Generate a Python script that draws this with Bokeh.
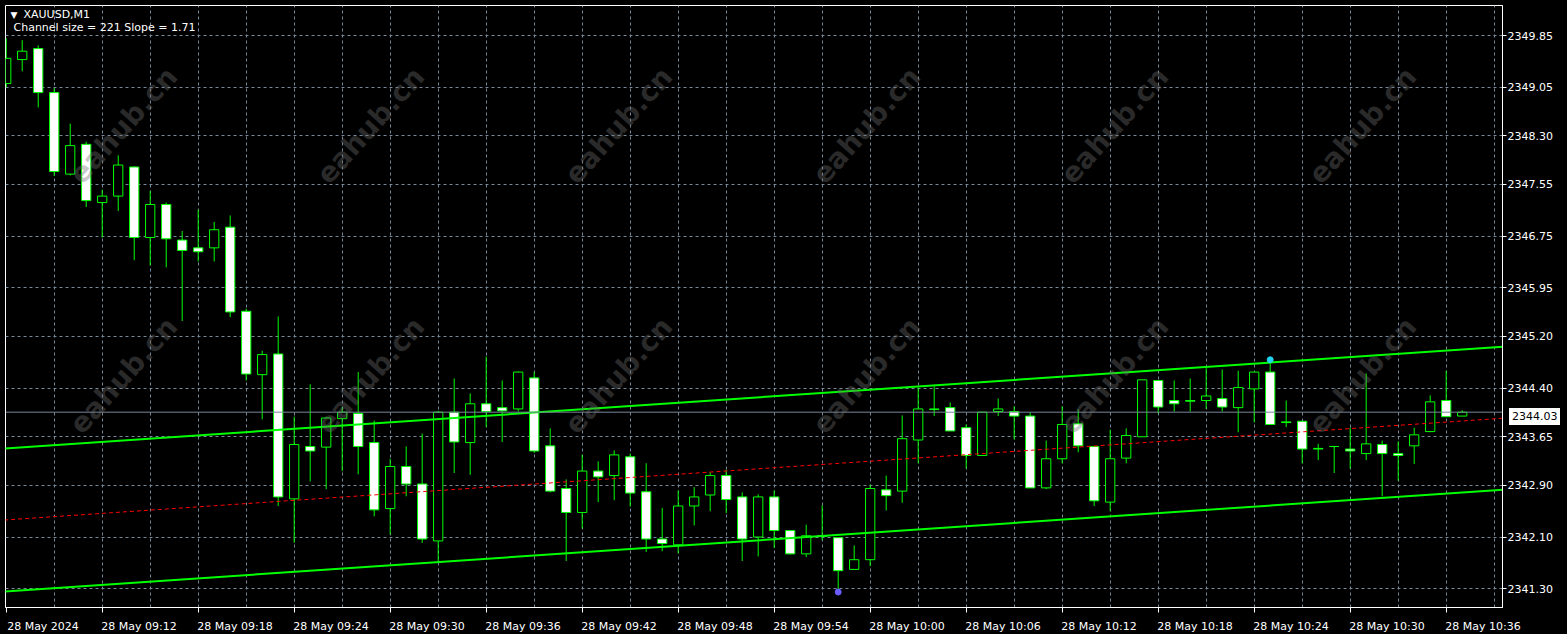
import numpy as np
from bokeh.plotting import figure
from bokeh.layouts import column
from bokeh.models import (FixedTicker, Label, Span, CustomJSTickFormatter, Div,
                          PrintfTickFormatter, Range1d, GlobalInlineStyleSheet)
from bokeh.embed import file_html
from bokeh.resources import INLINE

# ---------------- data (XAUUSD, M1, 28 May 2024, bar 0 = 09:06) ----------------
symbol = "XAUUSD,M1"
channel_text = "Channel size = 221 Slope = 1.71"

opens = [2349.11, 2349.48, 2349.65, 2348.97, 2347.71, 2348.17, 2347.27, 2347.37, 2347.82, 2346.73,
         2347.24, 2346.69, 2346.57, 2346.57, 2346.89, 2345.59, 2344.61, 2344.93, 2342.69, 2343.50,
         2343.49, 2343.93, 2344.01, 2343.56, 2342.54, 2343.19, 2342.92, 2342.04, 2344.03, 2343.56,
         2344.16, 2344.10, 2344.08, 2344.56, 2343.51, 2342.85, 2342.48, 2343.12, 2343.05, 2343.34,
         2342.80, 2342.07, 2341.98, 2342.58, 2342.75, 2343.05, 2342.72, 2342.10, 2342.72, 2342.20,
         2341.84, 2342.12, 2342.09, 2341.60, 2341.75, 2342.83, 2342.81, 2343.60, 2344.08, 2344.10,
         2343.79, 2343.36, 2344.04, 2344.04, 2343.97, 2342.86, 2343.31, 2343.85, 2343.50, 2342.64,
         2343.32, 2343.65, 2344.52, 2344.21, 2344.21, 2344.21, 2344.24, 2344.10, 2344.39, 2344.65,
         2343.88, 2343.89, 2343.47, 2343.50, 2343.46, 2343.39, 2343.53, 2343.39, 2343.51, 2343.73,
         2344.21, 2343.97]
highs = [2349.81, 2349.78, 2349.70, 2349.04, 2348.49, 2348.21, 2347.47, 2348.00, 2347.83, 2347.45,
         2347.27, 2346.83, 2347.16, 2346.97, 2347.07, 2345.63, 2344.98, 2345.51, 2343.96, 2344.46,
         2343.95, 2344.11, 2344.65, 2343.90, 2343.31, 2343.50, 2343.70, 2344.05, 2344.55, 2344.32,
         2344.89, 2344.52, 2344.66, 2344.65, 2343.78, 2342.99, 2343.37, 2343.27, 2343.44, 2343.39,
         2343.24, 2342.55, 2342.82, 2342.87, 2343.10, 2343.14, 2342.79, 2342.76, 2342.82, 2342.20,
         2342.29, 2342.59, 2342.09, 2341.97, 2342.91, 2343.05, 2343.98, 2344.41, 2344.43, 2344.18,
         2343.84, 2344.03, 2344.24, 2344.12, 2344.03, 2343.59, 2344.12, 2344.07, 2343.50, 2343.76,
         2343.78, 2344.53, 2344.52, 2344.52, 2344.55, 2344.71, 2344.69, 2344.67, 2344.65, 2344.84,
         2344.21, 2343.89, 2343.54, 2343.50, 2343.79, 2344.63, 2343.59, 2343.58, 2343.79, 2344.29,
         2344.67, 2344.06]
lows = [2349.05, 2349.30, 2348.74, 2347.68, 2347.69, 2347.20, 2346.73, 2347.14, 2346.38, 2346.30,
        2346.27, 2345.44, 2346.36, 2346.36, 2345.50, 2344.52, 2343.92, 2342.58, 2342.01, 2342.96,
        2342.84, 2343.12, 2343.07, 2342.42, 2342.14, 2342.73, 2342.01, 2341.71, 2343.09, 2343.06,
        2343.80, 2343.57, 2344.04, 2343.40, 2342.79, 2341.73, 2342.23, 2342.64, 2342.67, 2342.57,
        2341.87, 2341.88, 2341.85, 2342.28, 2342.50, 2342.47, 2341.73, 2341.80, 2341.93, 2341.83,
        2341.79, 2342.05, 2341.25, 2341.60, 2341.65, 2342.51, 2342.63, 2343.24, 2343.97, 2343.74,
        2343.16, 2343.36, 2343.97, 2343.61, 2342.86, 2342.84, 2343.24, 2343.41, 2342.58, 2342.50,
        2343.24, 2343.65, 2344.01, 2344.04, 2344.04, 2344.08, 2344.04, 2343.72, 2343.87, 2343.84,
        2343.80, 2343.24, 2343.29, 2343.09, 2343.16, 2343.29, 2342.73, 2342.97, 2343.23, 2343.72,
        2343.96, 2343.97]
closes = [2349.50, 2349.61, 2348.97, 2347.75, 2348.15, 2347.30, 2347.37, 2347.85, 2346.73, 2347.24,
          2346.71, 2346.53, 2346.51, 2346.85, 2345.58, 2344.62, 2344.92, 2342.72, 2343.53, 2343.43,
          2343.94, 2344.03, 2343.50, 2342.52, 2343.19, 2342.92, 2342.07, 2344.03, 2343.57, 2344.16,
          2344.04, 2344.05, 2344.65, 2343.43, 2342.81, 2342.48, 2343.12, 2343.03, 2343.37, 2342.78,
          2342.07, 2342.00, 2342.58, 2342.72, 2343.05, 2342.68, 2342.07, 2342.72, 2342.20, 2341.84,
          2342.12, 2342.11, 2341.58, 2341.75, 2342.85, 2342.74, 2343.62, 2344.08, 2344.07, 2343.74,
          2343.36, 2344.03, 2344.08, 2343.97, 2342.86, 2343.31, 2343.84, 2343.51, 2342.66, 2343.31,
          2343.67, 2344.53, 2344.11, 2344.16, 2344.20, 2344.28, 2344.11, 2344.41, 2344.65, 2343.84,
          2343.87, 2343.46, 2343.46, 2343.50, 2343.43, 2343.54, 2343.39, 2343.36, 2343.68, 2344.19,
          2343.96, 2344.03]

bid_price = 2344.03
price_ticks = [2341.30, 2342.10, 2342.90, 2343.65, 2344.40, 2345.20,
               2345.95, 2346.75, 2347.55, 2348.30, 2349.05, 2349.85]
time_tick_idx = list(range(0, 91, 6))
time_tick_labels = ["28 May 2024", "28 May 09:12", "28 May 09:18", "28 May 09:24",
                    "28 May 09:30", "28 May 09:36", "28 May 09:42", "28 May 09:48",
                    "28 May 09:54", "28 May 10:00", "28 May 10:06", "28 May 10:12",
                    "28 May 10:18", "28 May 10:24", "28 May 10:30", "28 May 10:36"]
grid_time_idx = list(range(3, 94, 3))

channel_lower_at_bar0 = 2341.26
channel_size = 2.21
channel_slope_per_bar = 0.0168
channel_span = [-1, 95]

touch_high_idx = [79]
touch_low_idx = [52]

watermark_cols = [123, 370, 618, 866, 1114, 1362]
watermark_rows = [125, 375]

# ---------------- figure ----------------
FONT = "DejaVu Sans"
GREEN = "#00ff00"
GRID = "#778899"
FRAME_L, FRAME_T = 5, 5
FRAME_W, FRAME_H = 1497, 602
X0, X1 = -0.044, 93.519
Y0, Y1 = 2341.011, 2350.316
LABEL_SHIFT = 2.3   # axis labels start at their tick (MetaTrader style)

o = np.array(opens); h = np.array(highs); l = np.array(lows); c = np.array(closes)
idx = np.arange(len(o))
bull = c > o

p = figure(frame_width=FRAME_W, frame_height=FRAME_H, title=None,
           x_range=Range1d(X0, X1), y_range=Range1d(Y0, Y1),
           y_axis_location="right", toolbar_location=None, output_backend="svg",
           min_border_left=FRAME_L, min_border_top=FRAME_T,
           min_border_right=65, min_border_bottom=27)
p.stylesheets = [GlobalInlineStyleSheet(css="html, body { background: #000000; }")]
p.background_fill_color = "black"
p.border_fill_color = "black"
p.outline_line_color = "white"

# grid
p.xgrid.ticker = FixedTicker(ticks=grid_time_idx)
p.ygrid.ticker = FixedTicker(ticks=price_ticks)
for g in (p.xgrid, p.ygrid):
    g.grid_line_color = GRID
    g.grid_line_dash = "3 3"
    g.grid_line_width = 1

# y axis (right)
ya = p.yaxis[0]
ya.ticker = FixedTicker(ticks=price_ticks)
ya.formatter = PrintfTickFormatter(format="%.2f")
ya.axis_line_color = "white"
ya.major_tick_line_color = "white"
ya.major_tick_out = 4
ya.major_tick_in = 0
ya.minor_tick_out = 0
ya.minor_tick_in = 0
ya.major_label_standoff = 1
ya.major_label_text_color = "white"
ya.major_label_text_font = FONT
ya.major_label_text_font_size = "11px"

# x axis (bottom): tick marks at the times (minor ticks), labels placed to start at them
xa = p.xaxis[0]
xa.ticker = FixedTicker(ticks=[t + LABEL_SHIFT for t in time_tick_idx], minor_ticks=time_tick_idx)
xa.formatter = CustomJSTickFormatter(
    args=dict(labels=time_tick_labels, shift=LABEL_SHIFT),
    code="const i = Math.round((tick - shift) / 6); return labels[i];")
xa.axis_line_color = "white"
xa.major_tick_out = 0
xa.major_tick_in = 0
xa.minor_tick_line_color = "white"
xa.minor_tick_out = 5
xa.minor_tick_in = 0
xa.major_label_standoff = 7
xa.major_label_text_color = "white"
xa.major_label_text_font = FONT
xa.major_label_text_font_size = "11px"

# candles
p.segment(x0=idx, y0=l, x1=idx, y1=h, line_color=GREEN, line_width=1)
body_top = np.maximum(o, c)
body_bot = np.minimum(o, c)
p.vbar(x=idx[bull], width=0.58, top=body_top[bull], bottom=body_bot[bull],
       fill_color="black", line_color=GREEN, line_width=1)
p.vbar(x=idx[~bull], width=0.58, top=body_top[~bull], bottom=body_bot[~bull],
       fill_color="white", line_color=GREEN, line_width=1)

# bid line
p.add_layout(Span(location=bid_price, dimension="width", line_color=GRID, line_width=1))

# regression channel
cx = np.array(channel_span, dtype=float)
lower = channel_lower_at_bar0 + channel_slope_per_bar * cx
upper = lower + channel_size
mid = lower + channel_size / 2
p.line(cx, mid, line_color="#ff0000", line_width=1, line_dash="4 3")
p.line(cx, upper, line_color=GREEN, line_width=2)
p.line(cx, lower, line_color=GREEN, line_width=2)

# touch markers
p.scatter(x=touch_high_idx, y=h[touch_high_idx], size=6, marker="circle",
          fill_color="#22d3ee", line_color="#22d3ee")
p.scatter(x=touch_low_idx, y=l[touch_low_idx], size=6, marker="circle",
          fill_color="#6a5cff", line_color="#6a5cff")

# watermark (semi-transparent, over the chart)
for wy in watermark_rows:
    for wx in watermark_cols:
        p.add_layout(Label(x=wx - FRAME_L, y=FRAME_T + FRAME_H - wy, x_units="screen",
                           y_units="screen", text="eahub.cn", angle=0.84, text_align="center",
                           text_baseline="middle", text_color="#707070", text_alpha=0.38,
                           text_font=FONT, text_font_size="28px", text_font_style="bold"))

# header texts
for tx, ty, txt, fs in [(10, 14, "▼", "9px"), (23, 14, symbol, "11px"), (13, 27, channel_text, "11px")]:
    p.add_layout(Label(x=tx - FRAME_L, y=FRAME_T + FRAME_H - ty, x_units="screen", y_units="screen",
                       text=txt, text_align="left", text_baseline="middle", text_color="white",
                       text_font=FONT, text_font_size=fs))

# current price box on the price scale (HTML element laid over the axis)
bid_page_y = FRAME_T + (Y1 - bid_price) / (Y1 - Y0) * FRAME_H
box = Div(text=f"{bid_price:.2f}", width=51, height=17,
          styles={"position": "absolute", "left": "1504px", "top": f"{bid_page_y - 8.5:.1f}px",
                  "background-color": "white", "color": "black", "font-family": FONT,
                  "font-size": "11px", "line-height": "17px", "padding-left": "3px",
                  "box-sizing": "border-box", "z-index": "10", "overflow": "hidden"})

layout = column(p, box, spacing=0)
open("out.html", "w").write(file_html(layout, INLINE))
